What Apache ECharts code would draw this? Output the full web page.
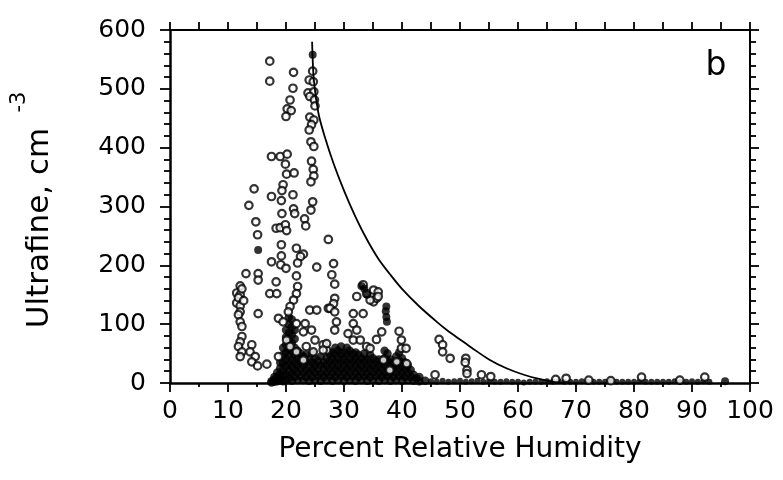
<!DOCTYPE html>
<html><head><meta charset="utf-8">
<script src="https://cdn.jsdelivr.net/npm/echarts@6/dist/echarts.min.js"></script>
<style>html,body{margin:0;padding:0;background:#fff}#c{width:783px;height:480px}</style>
</head><body><div id="c"></div>
<script>
// Axis settings (data units)
const xRange = [0, 100];
const yRange = [0, 600];
const xTitle = 'Percent Relative Humidity';
const yTitle = 'Ultrafine, cm';
const yTitleExp = '-3';
const panelLabel = 'b';

// Visible open circles [RH %, ultrafine cm^-3]
const openPoints = [
  [17.2,547],[17.2,513],[21.3,528],[21.2,501],[20.7,481],[20.2,466],[20.9,463],[20.0,453],
  [24.6,530],[24.0,515],[24.7,512],[23.8,493],[24.8,495],[24.1,487],[24.9,481],[25.0,471],
  [24.1,452],[24.8,447],[24.4,439],[24.0,430],[24.3,410],[24.8,402],
  [17.5,385],[19.0,385],[20.2,389],[19.9,372],[20.1,355],[21.4,357],[24.4,377],[24.7,363],
  [24.8,352],[24.3,342],[14.5,330],[19.5,337],[19.3,327],[17.5,317],[19.2,310],[21.2,320],
  [13.6,302],[24.6,308],[24.3,294],[21.3,296],[21.5,288],[19.3,288],[14.8,274],[23.2,279],
  [23.4,267],[18.3,263],[19.0,264],[19.9,269],[20.1,259],[15.1,252],[27.3,244],[19.2,235],
  [21.8,229],[23.0,219],[22.5,215],[17.5,206],[19.2,216],[19.1,201],[20.0,195],[22.0,204],[25.3,197],
  [13.1,186],[15.2,186],[15.2,175],[12.1,165],[11.5,153],[12.1,150],[11.5,136],[12.1,131],
  [12.1,121],[11.8,116],[12.1,104],[12.4,96],[15.2,118],[18.3,172],[17.2,152],[18.4,152],
  [21.8,182],[22.0,164],[21.8,152],[21.3,141],[20.7,130],[12.4,79],[12.1,70],[11.8,62],
  [12.4,53],[12.1,45],[14.1,65],[13.8,53],[14.7,45],[14.1,36],[15.1,29],[16.7,32],
  [18.7,110],[19.5,104],[20.4,121],[24.1,124],[25.3,124],[27.3,127],[21.8,101],[23.3,101],
  [23.0,87],[24.4,90],[25.0,73],[23.5,62],[24.7,53],[18.7,45],[20.1,73],[20.7,62],[21.8,53],
  [23.0,39],[26.4,65],[27.0,56],[11.8,145],[12.4,160],[12.7,140],
  [28.2,203],[27.9,184],[28.4,168],[28.4,144],[28.2,135],[27.6,127],[28.4,121],[33.3,167],
  [32.2,147],[33.9,152],[35.1,158],[35.9,155],[35.1,138],[35.6,144],[34.5,141],[35.9,147],
  [31.6,118],[33.3,118],[28.7,104],[28.4,90],[31.6,101],[32.2,90],[30.7,84],[36.5,87],
  [35.6,74],[39.5,88],[39.9,73],[39.9,59],[40.7,59],[46.4,74],[47.0,65],[47.0,53],[48.3,42],
  [51.0,42],[51.2,22],[45.7,14],[27.0,67],[26.4,56],[31.6,73],[32.8,73],[33.9,62],[34.5,59],
  [36.8,39],[37.9,22],[39.1,36],[40.8,33],
  [50.9,35],[51.2,16],[53.7,14],[55.3,11],[68.3,8],[72.2,5],[81.3,10],[92.2,10],[87.9,5],[66.5,6],[76,4]
];

// Filled-looking (overprinted) points
const filledPoints = [
  [24.6,558],[15.2,226],[33.0,165],[33.5,160],[34.0,150],[37.3,130],[37.2,122],[37.3,112],[37.4,104],[95.7,3]
];

// Dense overlapping cloud near the axis
const densePoints = [
  [17.5,1],[17.5,3],[18,2],[18,6],[18,10],[18.5,3],[18.5,10],[18.5,18],
  [19,5],[19,15],[19,25],[19,35],
  [19.5,3],[19.5,12],[19.5,22],[19.5,35],[19.5,48],[19.5,60],
  [20,5],[20,15],[20,28],[20,40],[20,52],[20,65],[20,78],[20,90],
  [20.5,8],[20.5,20],[20.5,32],[20.5,45],[20.5,58],[20.5,70],[20.5,85],[20.5,100],[20.5,112],
  [21,4],[21,16],[21,28],[21,40],[21,55],[21,68],[21,82],[21,95],[21,108],
  [21.5,10],[21.5,22],[21.5,35],[21.5,48],[21.5,60],[21.5,75],[21.5,90],
  [22,5],[22,18],[22,30],[22,42],[22,55],
  [22.5,12],[22.5,25],[22.5,38],[22.5,50],
  [23,5],[23,18],[23,30],[23,45],
  [23.5,10],[23.5,22],[23.5,35],[23.5,48],
  [24,4],[24,16],[24,28],[24,40],
  [24.5,10],[24.5,22],[24.5,35],[24.5,50],
  [25,5],[25,18],[25,30],[25,42],
  [25.5,12],[25.5,25],[25.5,38],
  [26,4],[26,16],[26,30],[26,45],
  [26.5,10],[26.5,22],[26.5,35],
  [27,5],[27,18],[27,30],[27,42],
  [27.5,12],[27.5,25],[27.5,38],[27.5,50],
  [28,4],[28,16],[28,28],[28,40],[28,52],
  [28.5,10],[28.5,22],[28.5,35],[28.5,48],[28.5,60],
  [29,5],[29,18],[29,30],[29,42],[29,55],
  [29.5,12],[29.5,25],[29.5,38],[29.5,50],[29.5,62],
  [30,4],[30,16],[30,28],[30,40],[30,52],
  [30.5,10],[30.5,22],[30.5,35],[30.5,48],[30.5,60],
  [31,5],[31,18],[31,30],[31,42],[31,55],
  [31.5,12],[31.5,25],[31.5,38],[31.5,50],
  [32,4],[32,16],[32,28],[32,40],[32,52],
  [32.5,10],[32.5,22],[32.5,35],[32.5,48],
  [33,5],[33,18],[33,30],[33,42],
  [33.5,12],[33.5,25],[33.5,38],[33.5,50],
  [34,4],[34,16],[34,28],[34,40],
  [34.5,10],[34.5,22],[34.5,35],[34.5,48],
  [35,5],[35,18],[35,30],[35,42],
  [35.5,12],[35.5,25],[35.5,38],
  [36,4],[36,16],[36,28],[36,40],
  [36.5,10],[36.5,22],[36.5,35],
  [37,5],[37,18],[37,30],[37,42],[37,55],
  [37.5,12],[37.5,25],[37.5,38],[37.5,50],
  [38,4],[38,16],[38,28],[38,40],
  [38.5,10],[38.5,22],[38.5,35],
  [39,5],[39,18],[39,30],[39,45],
  [39.5,12],[39.5,25],[39.5,38],[39.5,52],
  [40,4],[40,16],[40,28],[40,42],
  [40.5,10],[40.5,22],[40.5,35],
  [41,5],[41,18],[41,30],
  [41.5,10],[41.5,22],
  [42,4],[42,14],[42.5,8],[43,3],[43,10],[44,4]
];

// Band of points lying on the axis at high humidity
const baselinePoints = [
  [45,3],[46,2],[47,4],[48,2],[49,3],[50,4],[51,2],[52,3],[53,4],[54,2],[55,3],[56,2],[57,2],
  [58,3],[59,2],[60,2],[61,1],[62,2],[63,2],[64,2],[65,3],[66,2],[67,3],[68,2],[69,2],[70,2],
  [71,3],[72,2],[73,2],[74,2],[75,2],[76,3],[77,2],[78,2],[79,2],[80,2],[81,3],[82,2],[83,2],
  [84,2],[85,2],[86,2],[87,3],[88,2],[89,2],[90,3],[91,2],[92,3],[93,2]
];

// Envelope curve
const curvePoints = [
  [24.5,580],[24.8,515],[25.6,458],[26.7,418],[28.2,373],[30,327],[32,282],[34,243],[36,210],
  [38,184],[40,160],[43,130],[46,104],[48,88],[50,74],[52,60],[55,40],[58,25],[61,14],[64,6],[66,2],[68,0]
];

const FONT = '"DejaVu Sans", sans-serif';
const chart = echarts.init(document.getElementById('c'), null, {renderer: 'canvas'});
chart.setOption({
  animation: false,
  backgroundColor: '#fff',
  grid: {left: 170, right: 33, top: 30, bottom: 97},
  xAxis: [{
    type: 'value', min: xRange[0], max: xRange[1], interval: 10, position: 'bottom',
    axisLine: {show: true, onZero: false, lineStyle: {color: '#000', width: 2.5}},
    axisTick: {show: true, inside: false, length: 9, lineStyle: {color: '#000', width: 1.8}},
    minorTick: {show: true, splitNumber: 2, length: 4, lineStyle: {color: '#000', width: 1.8}},
    splitLine: {show: false},
    axisLabel: {show: true, color: '#000', fontSize: 25, fontFamily: FONT, margin: 16, showMinLabel: true, showMaxLabel: true},
    name: xTitle, nameLocation: 'middle', nameGap: 53,
    nameTextStyle: {color: '#000', fontSize: 28, fontFamily: FONT}
  }, {
    type: 'value', min: xRange[0], max: xRange[1], interval: 5, position: 'top',
    axisLine: {show: true, onZero: false, lineStyle: {color: '#000', width: 2}},
    axisTick: {show: true, inside: false, length: 8, lineStyle: {color: '#000', width: 1.8}},
    axisLabel: {show: false}, splitLine: {show: false}
  }],
  yAxis: [{
    type: 'value', min: yRange[0], max: yRange[1], interval: 100, position: 'left',
    axisLine: {show: true, onZero: false, lineStyle: {color: '#000', width: 2.5}},
    axisTick: {show: true, inside: false, length: 10, lineStyle: {color: '#000', width: 1.8}},
    minorTick: {show: true, splitNumber: 5, length: 6, lineStyle: {color: '#000', width: 1.8}},
    splitLine: {show: false},
    axisLabel: {show: true, color: '#000', fontSize: 25, fontFamily: FONT, margin: 24, showMinLabel: true, showMaxLabel: true}
  }, {
    type: 'value', min: yRange[0], max: yRange[1], interval: 100, position: 'right',
    axisLine: {show: true, onZero: false, lineStyle: {color: '#000', width: 2}},
    axisTick: {show: true, inside: false, length: 9, lineStyle: {color: '#000', width: 1.8}},
    minorTick: {show: true, splitNumber: 5, length: 6, lineStyle: {color: '#000', width: 1.8}},
    splitLine: {show: false}, axisLabel: {show: false}
  }],
  series: [{
    type: 'scatter', data: baselinePoints, symbol: 'circle', symbolSize: 6,
    itemStyle: {color: '#000'}, silent: true
  }, {
    type: 'scatter', data: densePoints, symbol: 'circle', symbolSize: 8.5,
    itemStyle: {color: '#000'}, silent: true
  }, {
    type: 'scatter', data: openPoints, symbol: 'circle', symbolSize: 7.5,
    itemStyle: {color: '#fff', borderColor: '#000', borderWidth: 2.2}, silent: true
  }, {
    type: 'scatter', data: filledPoints, symbol: 'circle', symbolSize: 8,
    itemStyle: {color: '#000'}, silent: true
  }, {
    type: 'line', data: curvePoints, smooth: 0.3, showSymbol: false, symbol: 'none',
    lineStyle: {color: '#000', width: 1.8}, silent: true, z: 5
  }],
  graphic: [{
    type: 'text', x: 40, y: 228, rotation: Math.PI / 2,
    style: {text: yTitle, font: '31px ' + FONT, fill: '#000', align: 'center', verticalAlign: 'middle', textAlign: 'center', textVerticalAlign: 'middle'}
  }, {
    type: 'text', x: 20, y: 102, rotation: Math.PI / 2,
    style: {text: yTitleExp, font: '21px ' + FONT, fill: '#000', align: 'center', verticalAlign: 'middle', textAlign: 'center', textVerticalAlign: 'middle'}
  }, {
    type: 'text', x: 716, y: 66,
    style: {text: panelLabel, font: '33px ' + FONT, fill: '#000', align: 'center', verticalAlign: 'middle', textAlign: 'center', textVerticalAlign: 'middle'}
  }]
});
</script>
</body></html>
